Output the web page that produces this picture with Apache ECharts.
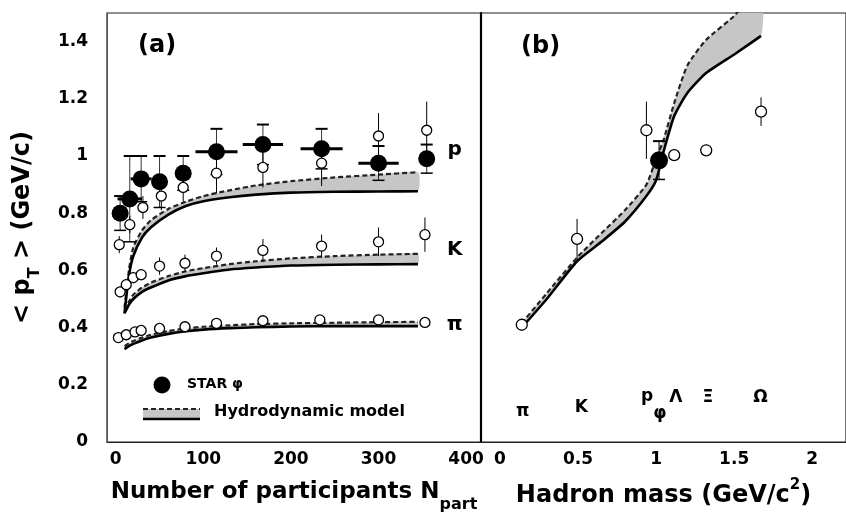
<!DOCTYPE html>
<html><head><meta charset="utf-8">
<script src="https://cdn.jsdelivr.net/npm/echarts@6/dist/echarts.min.js"></script>
<style>html,body{margin:0;padding:0;background:#fff}#c{width:846px;height:518px}</style>
</head><body><div id="c"></div>
<script>
// ---------- Panel (a): <pT> vs Npart ----------
const phiN    = [5, 16, 29, 50, 77, 115, 168, 235, 300, 355];
const phiPt   = [0.80, 0.85, 0.92, 0.91, 0.94, 1.015, 1.04, 1.025, 0.975, 0.99];
const phiErr  = [0.06, 0.15, 0.08, 0.09, 0.06, 0.08, 0.07, 0.07, 0.06, 0.05];
const phiNErr = [0, 14, 12, 0, 0, 24, 23, 24, 23, 0];

const protonN   = [4, 16, 31, 52, 77, 115, 168, 235, 300, 355];
const protonPt  = [0.69, 0.76, 0.82, 0.86, 0.89, 0.94, 0.96, 0.975, 1.07, 1.09];
const protonErr = [0.03, 0.03, 0.04, 0.05, 0.05, 0.07, 0.07, 0.08, 0.08, 0.10];

const kaonN   = [5, 12, 20, 29, 50, 79, 115, 168, 235, 300, 353];
const kaonPt  = [0.525, 0.55, 0.575, 0.585, 0.615, 0.625, 0.65, 0.67, 0.685, 0.70, 0.725];
const kaonErr = [0.02, 0.02, 0.02, 0.02, 0.03, 0.03, 0.03, 0.04, 0.04, 0.05, 0.06];

const pionN   = [3, 12, 22, 29, 50, 79, 115, 168, 233, 300, 353];
const pionPt  = [0.365, 0.375, 0.385, 0.39, 0.397, 0.403, 0.415, 0.424, 0.427, 0.427, 0.418];
const pionErr = [0.01, 0.01, 0.01, 0.01, 0.01, 0.01, 0.012, 0.012, 0.012, 0.012, 0.012];

// hydrodynamic model bands (lower = solid, upper = dashed)
const modelN      = [10, 15, 20, 30, 40, 60, 80, 100, 130, 160, 200, 250, 300, 345];
const protonLow   = [0.45, 0.58, 0.65, 0.715, 0.75, 0.795, 0.825, 0.842, 0.856, 0.865, 0.872, 0.875, 0.876, 0.877];
const protonHigh  = [0.47, 0.60, 0.68, 0.74, 0.775, 0.815, 0.84, 0.86, 0.88, 0.897, 0.912, 0.925, 0.935, 0.943];
const kaonLow     = [0.45, 0.48, 0.50, 0.525, 0.54, 0.565, 0.58, 0.59, 0.603, 0.61, 0.617, 0.62, 0.621, 0.622];
const kaonHigh    = [0.46, 0.49, 0.515, 0.54, 0.557, 0.58, 0.597, 0.608, 0.622, 0.632, 0.642, 0.65, 0.655, 0.658];
const pionLow     = [0.325, 0.335, 0.343, 0.355, 0.365, 0.378, 0.387, 0.393, 0.398, 0.401, 0.404, 0.405, 0.405, 0.405];
const pionHigh    = [0.335, 0.345, 0.353, 0.365, 0.375, 0.388, 0.397, 0.403, 0.408, 0.412, 0.415, 0.417, 0.419, 0.42];

const labelsA   = ['p', 'K', 'π'];
const labelsAN  = [387, 387, 387];
const labelsAPt = [1.02, 0.671, 0.409];

// ---------- Panel (b): <pT> vs hadron mass ----------
const massOpen = [0.14, 0.494, 0.938, 1.116, 1.321, 1.672];
const ptOpen   = [0.41, 0.71, 1.09, 1.003, 1.02, 1.155];
const errOpen  = [0.01, 0.07, 0.10, 0.02, 0.02, 0.05];
const massPhi  = [1.019];
const ptPhi    = [0.985];
const errPhi   = [0.067];

const modelMass = [0.14, 0.3, 0.494, 0.65, 0.8, 0.938, 1.0, 1.05, 1.116, 1.2, 1.32, 1.5, 1.672];
const massLow   = [0.40, 0.50, 0.632, 0.70, 0.77, 0.86, 0.915, 1.02, 1.14, 1.22, 1.29, 1.355, 1.42];
const massHigh  = [0.415, 0.52, 0.645, 0.73, 0.81, 0.90, 0.99, 1.06, 1.185, 1.316, 1.406, 1.49, 1.60];

const labelsB     = ['π', 'K', 'p', 'φ', 'Λ', 'Ξ', 'Ω'];
const labelsBMass = [0.146, 0.522, 0.943, 1.025, 1.127, 1.331, 1.669];
const labelsBPt   = [0.108, 0.119, 0.16, 0.10, 0.157, 0.154, 0.157];

const xTicksA = [0, 100, 200, 300, 400];
const xTicksB = [0, 0.5, 1, 1.5, 2];
const yTicks  = [0, 0.2, 0.4, 0.6, 0.8, 1, 1.2, 1.4];

// ---------- helpers ----------
const FONT = 'DejaVu Sans';
const zip = (a, b) => a.map((v, i) => [v, b[i]]);

function band(ax, xs, lo, hi) {
  return {
    type: 'custom', xAxisIndex: ax, yAxisIndex: ax, clip: true, z: 1, silent: true,
    data: [[xs[0], lo[0]]],
    renderItem: (p, api) => {
      const pts = [];
      xs.forEach((x, i) => pts.push(api.coord([x, hi[i]])));
      for (let i = xs.length - 1; i >= 0; i--) pts.push(api.coord([xs[i], lo[i]]));
      return { type: 'polygon', shape: { points: pts, smooth: 0.2 }, style: { fill: '#c6c6c6' } };
    }
  };
}
function line(ax, xs, ys, dashed) {
  return {
    type: 'line', xAxisIndex: ax, yAxisIndex: ax, data: zip(xs, ys), symbol: 'none',
    smooth: 0.2, z: 2, silent: true, clip: true,
    lineStyle: dashed ? { color: '#222', width: 2.2, type: [5, 3] } : { color: '#000', width: 2.6 }
  };
}
function vErr(ax, xs, ys, errs, cap, w) {
  return {
    type: 'custom', xAxisIndex: ax, yAxisIndex: ax, z: 3, silent: true,
    data: xs.map((x, i) => [x, ys[i] - errs[i], ys[i] + errs[i]]),
    renderItem: (p, api) => {
      const lo = api.coord([api.value(0), api.value(1)]);
      const hi = api.coord([api.value(0), api.value(2)]);
      const ch = [{ type: 'line', shape: { x1: lo[0], y1: lo[1], x2: hi[0], y2: hi[1] }, style: { stroke: '#000', lineWidth: w } }];
      if (cap) {
        ch.push({ type: 'line', shape: { x1: hi[0] - cap, y1: hi[1], x2: hi[0] + cap, y2: hi[1] }, style: { stroke: '#000', lineWidth: 2 } });
        ch.push({ type: 'line', shape: { x1: lo[0] - cap, y1: lo[1], x2: lo[0] + cap, y2: lo[1] }, style: { stroke: '#000', lineWidth: 1.5 } });
      }
      return { type: 'group', children: ch };
    }
  };
}
function hErr(ax, xs, ys, errs) {
  return {
    type: 'custom', xAxisIndex: ax, yAxisIndex: ax, z: 3, silent: true,
    data: xs.map((x, i) => [x - errs[i], x + errs[i], ys[i]]),
    renderItem: (p, api) => {
      const a = api.coord([api.value(0), api.value(2)]);
      const b = api.coord([api.value(1), api.value(2)]);
      return { type: 'line', shape: { x1: a[0], y1: a[1], x2: b[0], y2: b[1] }, style: { stroke: '#000', lineWidth: 3 } };
    }
  };
}
function openPts(ax, xs, ys, size) {
  return {
    type: 'scatter', xAxisIndex: ax, yAxisIndex: ax, data: zip(xs, ys), symbol: 'circle', symbolSize: size, z: 4,
    itemStyle: { color: '#fff', borderColor: '#000', borderWidth: 1.3, opacity: 1 }, silent: true
  };
}
function filledPts(ax, xs, ys, size) {
  return {
    type: 'scatter', xAxisIndex: ax, yAxisIndex: ax, data: zip(xs, ys), symbol: 'circle', symbolSize: size, z: 5,
    itemStyle: { color: '#000', opacity: 1 }, silent: true
  };
}
function textPts(ax, xs, ys, names, size) {
  return {
    type: 'scatter', xAxisIndex: ax, yAxisIndex: ax, data: zip(xs, ys), symbolSize: 1, z: 6, silent: true,
    itemStyle: { color: 'rgba(0,0,0,0)', opacity: 1 },
    label: { show: true, position: 'inside', formatter: p => names[p.dataIndex],
      fontFamily: FONT, fontWeight: 'bold', fontSize: size, color: '#000', opacity: 1 }
  };
}

const tickLabel = { fontFamily: FONT, fontWeight: 'bold', fontSize: 17, color: '#000' };
const nameStyle = (fs, extraRich) => ({
  fontFamily: FONT, fontWeight: 'bold', fontSize: fs, color: '#000',
  rich: Object.assign({
    m: { fontFamily: FONT, fontWeight: 'bold', fontSize: fs, color: '#000', verticalAlign: 'top', lineHeight: 26 },
    sub: { fontFamily: FONT, fontWeight: 'bold', fontSize: 16, color: '#000', verticalAlign: 'top', lineHeight: 16, padding: [16, 0, 0, 0] }
  }, extraRich || {})
});

const option = {
  backgroundColor: '#fff',
  animation: false,
  grid: [
    { left: 107, top: 13, width: 374, height: 429, show: true, borderColor: '#222', borderWidth: 1.2, backgroundColor: 'transparent' },
    { left: 481, top: 13, width: 367, height: 429, show: true, borderColor: '#222', borderWidth: 1.2, backgroundColor: 'transparent' }
  ],
  xAxis: [
    { type: 'value', gridIndex: 0, min: -10, max: 417,
      axisLine: { show: true, onZero: false, lineStyle: { color: '#222', width: 1.2 } }, axisTick: { show: false }, splitLine: { show: false },
      axisLabel: Object.assign({ customValues: xTicksA, margin: 9 }, tickLabel),
      name: '{m|Number of participants N}{sub|part}', nameLocation: 'middle', nameGap: 39,
      nameTextStyle: nameStyle(23) },
    { type: 'value', gridIndex: 1, min: -0.121, max: 2.216,
      axisLine: { show: true, onZero: false, lineStyle: { color: '#222', width: 1.2 } }, axisTick: { show: false }, splitLine: { show: false },
      axisLabel: Object.assign({ customValues: xTicksB, margin: 9 }, tickLabel),
      name: '{n|Hadron mass (GeV/c}{sup|2}{n|)}', nameLocation: 'middle', nameGap: 36,
      nameTextStyle: nameStyle(24, {
        n: { fontFamily: FONT, fontWeight: 'bold', fontSize: 24, color: '#000', verticalAlign: 'top', lineHeight: 26, padding: [6, 0, 0, 0] },
        sup: { fontFamily: FONT, fontWeight: 'bold', fontSize: 15, color: '#000', verticalAlign: 'top', lineHeight: 16, padding: [0, 0, 0, 0] }
      }) }
  ],
  yAxis: [
    { type: 'value', gridIndex: 0, min: 0, max: 1.5,
      axisLine: { show: true, onZero: false, lineStyle: { color: '#555', width: 1 } }, axisTick: { show: false }, splitLine: { show: false },
      axisLabel: Object.assign({ customValues: yTicks, margin: 19 }, tickLabel),
      name: '{m|< p}{sub|T}{m| > (GeV/c)}', nameLocation: 'middle', nameRotate: 90, nameGap: 70,
      nameTextStyle: nameStyle(24) },
    { type: 'value', gridIndex: 1, min: 0, max: 1.5,
      axisLine: { show: true, onZero: false, lineStyle: { color: '#000', width: 2.2 } }, axisTick: { show: false }, splitLine: { show: false },
      axisLabel: { show: false } }
  ],
  series: [
    band(0, modelN, protonLow, protonHigh),
    band(0, modelN, kaonLow, kaonHigh),
    band(0, modelN, pionLow, pionHigh),
    line(0, modelN, protonHigh, true), line(0, modelN, protonLow, false),
    line(0, modelN, kaonHigh, true), line(0, modelN, kaonLow, false),
    line(0, modelN, pionHigh, true), line(0, modelN, pionLow, false),
    vErr(0, protonN, protonPt, protonErr, 0, 1),
    vErr(0, kaonN, kaonPt, kaonErr, 0, 1),
    vErr(0, pionN, pionPt, pionErr, 0, 1),
    openPts(0, protonN, protonPt, 10),
    openPts(0, kaonN, kaonPt, 10),
    openPts(0, pionN, pionPt, 10),
    vErr(0, phiN, phiPt, phiErr, 6, 0.8),
    hErr(0, phiN, phiPt, phiNErr),
    filledPts(0, phiN, phiPt, 17),
    textPts(0, labelsAN, labelsAPt, labelsA, 20),

    band(1, modelMass, massLow, massHigh),
    line(1, modelMass, massHigh, true), line(1, modelMass, massLow, false),
    vErr(1, massOpen, ptOpen, errOpen, 0, 1),
    openPts(1, massOpen, ptOpen, 11),
    vErr(1, massPhi, ptPhi, errPhi, 6, 1),
    filledPts(1, massPhi, ptPhi, 18),
    textPts(1, labelsBMass, labelsBPt, labelsB, 17)
  ],
  graphic: [
    { type: 'text', left: 138, top: 34, style: { text: '(a)', fontFamily: FONT, fontWeight: 'bold', fontSize: 24, fill: '#000' } },
    { type: 'text', left: 521, top: 35, style: { text: '(b)', fontFamily: FONT, fontWeight: 'bold', fontSize: 24, fill: '#000' } },
    { type: 'circle', shape: { cx: 162, cy: 385, r: 8.5 }, style: { fill: '#000' } },
    { type: 'text', left: 187, top: 377, style: { text: 'STAR φ', fontFamily: FONT, fontWeight: 'bold', fontSize: 14, fill: '#000' } },
    { type: 'rect', shape: { x: 143, y: 409, width: 57, height: 10 }, style: { fill: '#c6c6c6' } },
    { type: 'line', shape: { x1: 143, y1: 409, x2: 200, y2: 409 }, style: { stroke: '#222', lineWidth: 2, lineDash: [5, 3] } },
    { type: 'line', shape: { x1: 143, y1: 419, x2: 200, y2: 419 }, style: { stroke: '#000', lineWidth: 2.4 } },
    { type: 'text', left: 214, top: 404, style: { text: 'Hydrodynamic model', fontFamily: FONT, fontWeight: 'bold', fontSize: 16, fill: '#000' } }
  ]
};
const chart = echarts.init(document.getElementById('c'));
chart.setOption(option);
</script></body></html>
